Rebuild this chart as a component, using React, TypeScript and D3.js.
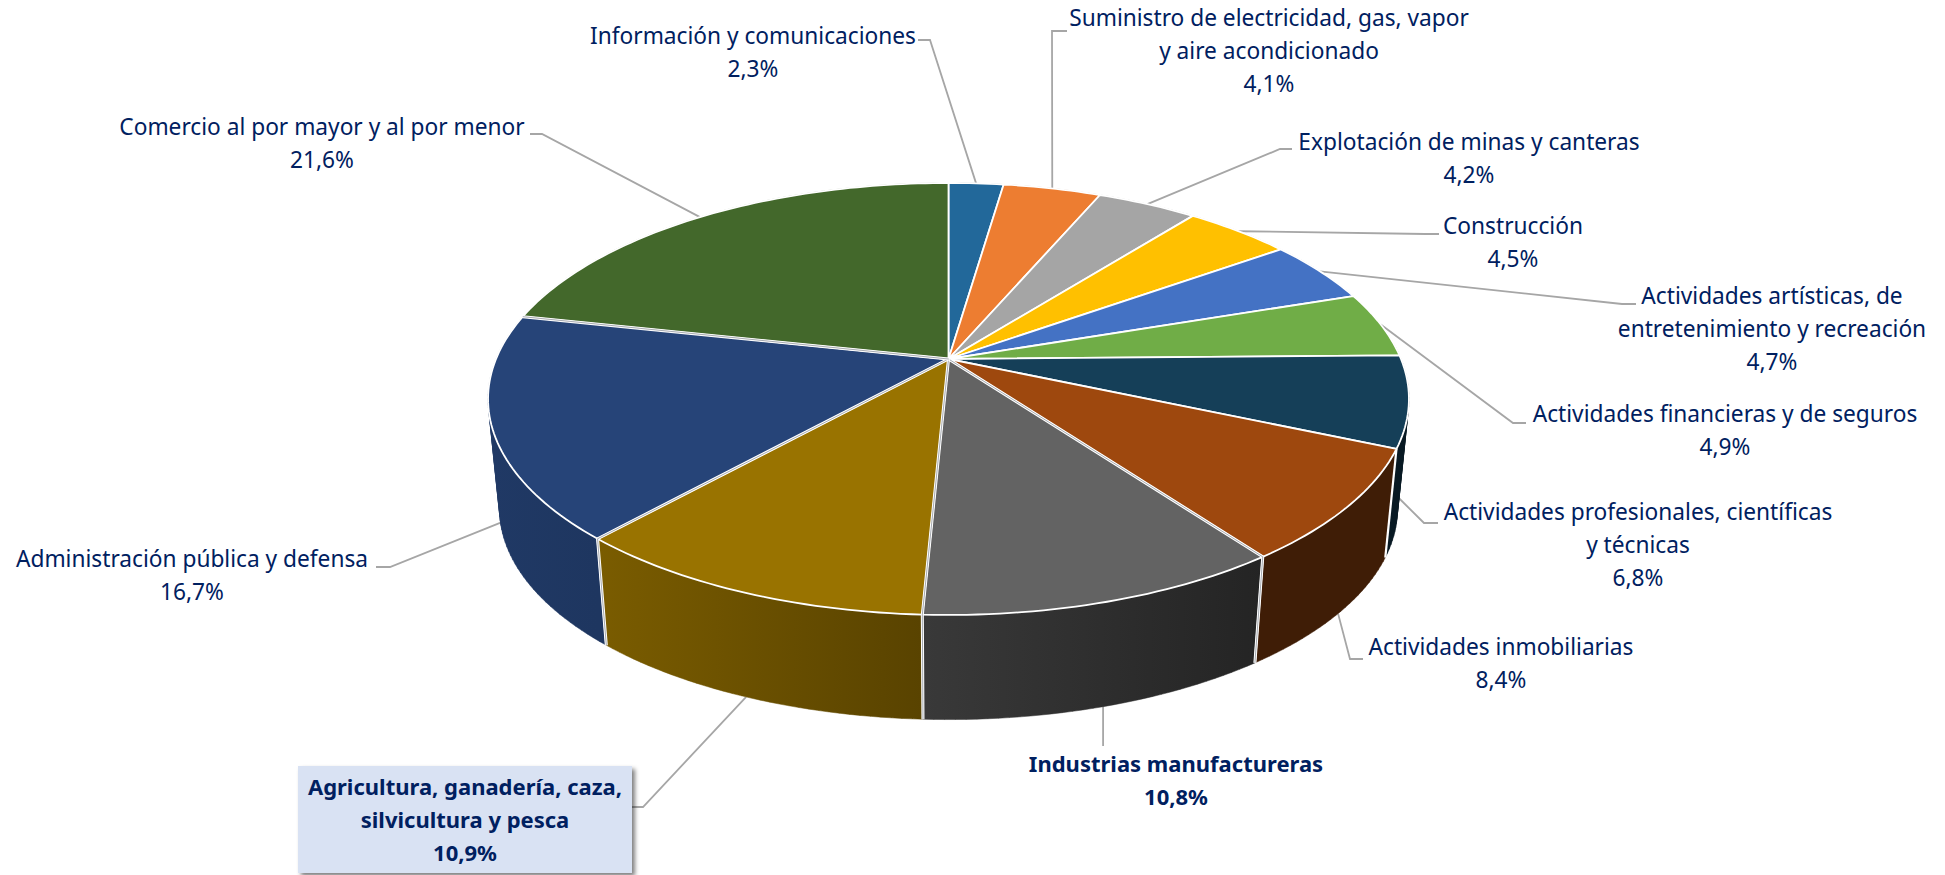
import * as d3 from 'd3';

// ─── Data ───────────────────────────────────────────────────

const sectors = [
  ['Información y comunicaciones'],
  ['Suministro de electricidad, gas, vapor', 'y aire acondicionado'],
  ['Explotación de minas y canteras'],
  ['Construcción'],
  ['Actividades artísticas, de', 'entretenimiento y recreación'],
  ['Actividades financieras y de seguros'],
  ['Actividades profesionales, científicas', 'y técnicas'],
  ['Actividades inmobiliarias'],
  ['Industrias manufactureras'],
  ['Agricultura, ganadería, caza,', 'silvicultura y pesca'],
  ['Administración pública y defensa'],
  ['Comercio al por mayor y al por menor'],
];
const shares = [2.3, 4.1, 4.2, 4.5, 4.7, 4.9, 6.8, 8.4, 10.8, 10.9, 16.7, 21.6];

// ─── Styles and layout ──────────────────────────────────────

const colors = [
  '#22689a', '#ed7d31', '#a5a5a5', '#ffc000', '#4472c4', '#70ad47',
  '#153f58', '#9e480e', '#636363', '#997300', '#264478', '#43682b',
];
// brightness of the side wall, left and right end
const wallShade = [
  [0.5, 0.5], [0.5, 0.5], [0.5, 0.5], [0.5, 0.5], [0.5, 0.5], [0.5, 0.5],
  [0.4, 0.4], [0.4, 0.4], [0.58, 0.36], [0.8, 0.58], [0.84, 0.8], [0.7, 0.7],
];
// text centre, first baseline, leader end and elbow, how far down the wall the leader lands
const labelLayout = [
  { x: 753, y: 44, end: [918, 40], elbow: [930, 40], t: 0 },
  { x: 1269, y: 26, end: [1067, 31], elbow: [1052, 31], t: 0 },
  { x: 1469, y: 150, end: [1292, 149], elbow: [1280, 149], t: 0 },
  { x: 1513, y: 234, end: [1439, 234], elbow: [1425, 234], t: 0 },
  { x: 1772, y: 304, end: [1636, 304], elbow: [1622, 304], t: 0 },
  { x: 1725, y: 422, end: [1526, 423], elbow: [1513, 423], t: 0 },
  { x: 1638, y: 520, end: [1438, 523], elbow: [1424, 523], t: 0.88 },
  { x: 1501, y: 655, end: [1363, 659], elbow: [1350, 659], t: 1 },
  { x: 1176, y: 772, end: [1100, 746], elbow: [1100, 746], t: 1 },
  { x: 465, y: 795, end: [632, 807], elbow: [643, 807], t: 1 },
  { x: 192, y: 567, end: [376, 567], elbow: [390, 567], t: 0.87 },
  { x: 322, y: 135, end: [530, 134], elbow: [542, 134], t: 0 },
];
const boldSectors = [8, 9];
// slices whose leading edge shows as a double white line with a grey core
const doubleEdges = [8, 9, 10, 11];

const W = 1945;
const H = 875;
const FONT = '"Noto Sans", sans-serif';
const INK = '#002060';
const LINE_H = 33;

// Perspective of the pie: a homography of the unit circle
const CX = 948.5;
const PERSP = -0.185;
const RX = 452.5;
const RY = 208.6;
const TOP_Y = 359;
const BOTTOM_Y = 470;
const BOTTOM_SCALE = 0.975;

function project(angle: number, bottom = false): [number, number] {
  const u = Math.sin(angle);
  const v = -Math.cos(angle);
  const d = 1 + PERSP * v;
  const s = bottom ? BOTTOM_SCALE : 1;
  return [CX + (s * RX * u) / d, (bottom ? BOTTOM_Y : TOP_Y) + (s * RY * v) / d];
}

function arcPoints(a0: number, a1: number, bottom = false) {
  const n = Math.max(2, Math.ceil((a1 - a0) / 0.02));
  return d3.range(n + 1).map((i) => project(a0 + ((a1 - a0) * i) / n, bottom));
}

const slices = d3.pie<number>().sort(null).value((d) => d)(shares);
const path = d3.line();

function shade(c: string, k: number) {
  const rgb = d3.rgb(c);
  return d3.rgb(rgb.r * k, rgb.g * k, rgb.b * k).formatHex();
}

// Wall as separate quads, all wound the same way: a single outline would
// cancel itself where the band folds over at the pie's silhouette.
function wallPath(a0: number, a1: number) {
  const top = arcPoints(a0, a1);
  const bottom = arcPoints(a0, a1, true);
  return d3.range(top.length - 1).map((i) => {
    const quad = [top[i], top[i + 1], bottom[i + 1], bottom[i]];
    if (d3.polygonArea(quad) < 0) quad.reverse();
    return `${path(quad)}Z`;
  }).join('');
}

export default function App() {
  // walls go back to front, so the nearer ones cover the farther ones
  const walls = slices
    .map((s, i) => ({ s, i, depth: -Math.cos((s.startAngle + s.endAngle) / 2) }))
    .sort((a, b) => a.depth - b.depth);

  return (
    <svg width={W} height={H} viewBox={`0 0 ${W} ${H}`} style={{ position: 'absolute', left: 0, top: 0 }} fontFamily={FONT}>
      <defs>
        <filter id="boxShadow" x="-5%" y="-10%" width="115%" height="130%">
          <feDropShadow dx="3" dy="3" stdDeviation="2" floodColor="#000" floodOpacity="0.5" />
        </filter>
        {walls.map(({ s, i }) => {
          const xs = arcPoints(s.startAngle, s.endAngle).map((p) => p[0]);
          const [x0, x1] = d3.extent(xs) as [number, number];
          return (
            <linearGradient key={i} id={`wall${i}`} gradientUnits="userSpaceOnUse" x1={x0} x2={x1} y1={0} y2={0}>
              <stop offset="0" stopColor={shade(colors[i], wallShade[i][0])} />
              <stop offset="1" stopColor={shade(colors[i], wallShade[i][1])} />
            </linearGradient>
          );
        })}
      </defs>

      {/* Leader lines */}
      {slices.map((s, i) => {
        const mid = (s.startAngle + s.endAngle) / 2;
        const l = labelLayout[i];
        const start = d3.interpolateArray(project(mid), project(mid, true))(l.t) as [number, number];
        const pts: [number, number][] = i === 8
          ? [[start[0], l.end[1]], start]
          : [l.end as [number, number], l.elbow as [number, number], start];
        return <path key={i} d={path(pts) ?? ''} fill="none" stroke="#a6a6a6" strokeWidth={1.8} />;
      })}

      {/* Side walls */}
      {walls.map(({ s, i }) => {
        const a = s.startAngle;
        return (
          <g key={i}>
            <path d={wallPath(a, s.endAngle)} fill={`url(#wall${i})`} stroke={`url(#wall${i})`} strokeWidth={0.5} />
            <path d={path([project(a), project(a, true)]) ?? ''} stroke="#fff" strokeWidth={2.2} />
          </g>
        );
      })}

      {/* Top face */}
      {slices.map((s, i) => (
        <path
          key={i}
          d={`M${CX},${TOP_Y}${path(arcPoints(s.startAngle, s.endAngle))?.replace('M', 'L')}Z`}
          fill={colors[i]}
          stroke="#fff"
          strokeWidth={1.8}
          strokeLinejoin="round"
        />
      ))}

      {/* Double edges between the large slices; the wall part only shows in front */}
      {doubleEdges.map((i) => {
        const a = slices[i].startAngle;
        const pts: [number, number][] = [[CX, TOP_Y], project(a)];
        if (-Math.cos(a) > 0) pts.push(project(a, true));
        const d = path(pts) ?? '';
        return (
          <g key={i} fill="none">
            <path d={d} stroke="#fff" strokeWidth={3} />
            <path d={d} stroke="#8f949c" strokeWidth={0.8} />
          </g>
        );
      })}

      {/* Highlight box behind the top contributor label */}
      <rect x={298} y={766} width={334} height={107} fill="#d9e2f3" filter="url(#boxShadow)" />

      {/* Labels */}
      {sectors.map((lines, i) => {
        const l = labelLayout[i];
        const bold = boldSectors.includes(i);
        return (
          <text key={i} x={l.x} y={l.y} textAnchor="middle" fill={INK} fontSize={bold ? 22 : 22.7} fontWeight={bold ? 700 : 400}>
            {[...lines, `${d3.format('.1f')(shares[i]).replace('.', ',')}%`].map((t, j) => (
              <tspan key={j} x={l.x} y={l.y + j * LINE_H}>{t}</tspan>
            ))}
          </text>
        );
      })}
    </svg>
  );
}
